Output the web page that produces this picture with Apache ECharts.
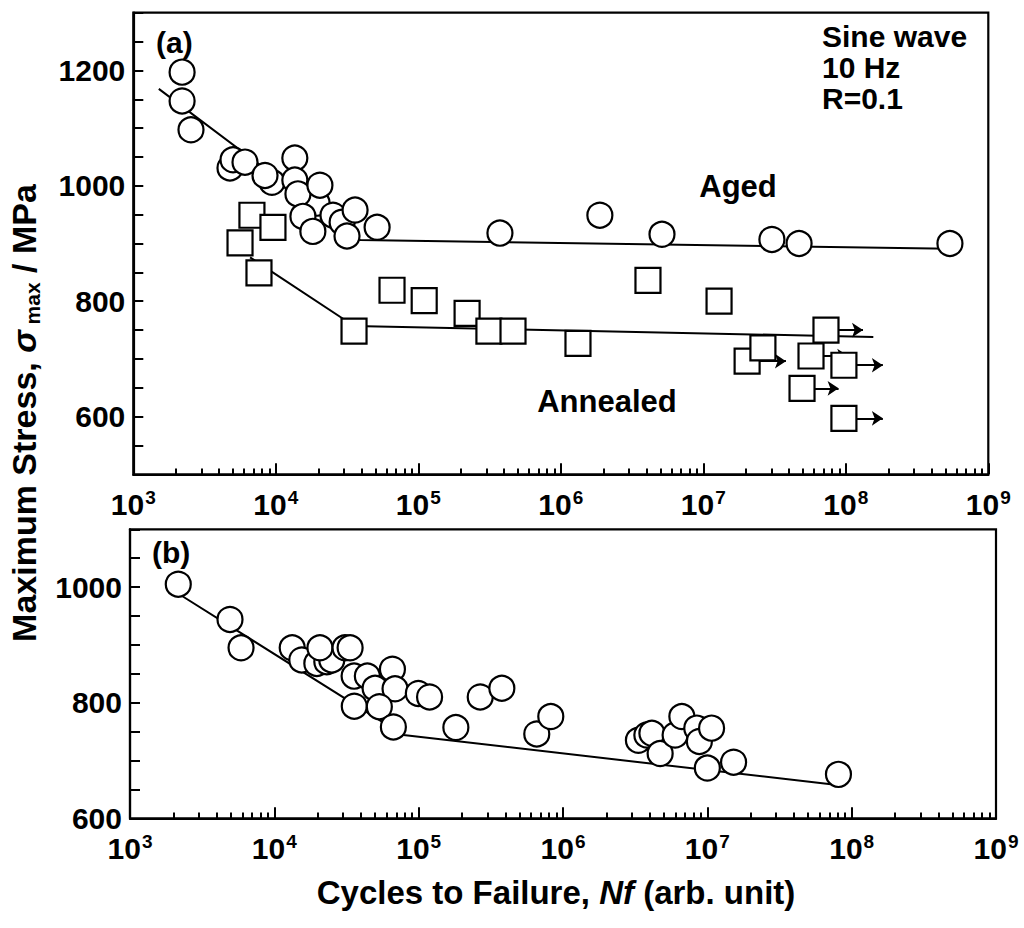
<!DOCTYPE html>
<html><head><meta charset="utf-8">
<script src="https://cdn.jsdelivr.net/npm/echarts@6/dist/echarts.min.js"></script>
<style>html,body{margin:0;padding:0;background:#fff}#c{width:1024px;height:928px}</style>
</head><body><div id="c"></div>
<script>
// ---------- DATA ----------
// Panel (a): Aged (circles)
const agedPoints = [
  [2200,1197],[2200,1147],[2540,1097],[4770,1031],[5010,1045],[6080,1041],
  [9400,1006],[8400,1018],[19500,970],[13600,1048],[13600,1010],[14300,986],
  [20400,1001],[15500,947],[18200,921],[25200,949],[29200,937],[31600,913],
  [36000,958],[51400,928],[374000,918],[1880000,949],[5130000,916],
  [30300000,907],[47000000,900],[538000000,900]
];
const agedFit = [[1510,1168],[39000,906],[538000000,891]];
// Panel (a): Annealed (squares)
const annealedPoints = [
  [6800,949],[9550,928],[5610,901],[7620,849],[35400,748],[65400,819],
  [110000,801],[220000,779],[313000,748],[462000,748],[1320000,727],
  [4090000,836],[12900000,800],[20300000,696],[26200000,719],[72600000,750],
  [57000000,705],[97000000,689],[49300000,649],[97000000,597]
];
// run-outs: [cycles, stress, arrow tip cycles]
const annealedRunouts = [
  [20300000,696,38000000],[72600000,750,132000000],[57000000,705,104000000],
  [97000000,689,182000000],[49300000,649,89000000],[97000000,597,182000000]
];
const annealedFit = [[6600,876],[35400,757],[156000000,738]];
// Panel (b)
const panelBPoints = [
  [2160,1005],[4930,944],[5880,895],[13300,895],[15500,874],[19700,868],
  [23100,871],[25000,874],[20700,895],[30900,895],[33500,895],[35700,846],
  [44100,846],[49900,825],[65800,858],[68600,824],[35800,794],[53400,793],
  [66800,758],[99500,816],[119000,810],[181000,757],[267000,810],[377000,825],
  [658000,746],[823000,776],[3330000,735],[3810000,744],[4130000,747],
  [4710000,712],[5980000,744],[6660000,776],[8450000,756],[8810000,733],
  [10700000,756],[10000000,687],[15200000,697],[81000000,676]
];
const panelBFit = [[2280,985],[78400,744],[76900000,658]];
// axis ticks
const decades = [1e3,1e4,1e5,1e6,1e7,1e8,1e9];
const minorMultipliers = [2,3,4,5,6,7,8,9];
const yLabelStep = 200;

// ---------- CHART ----------
const FONT = "'Liberation Sans', Arial, Helvetica, sans-serif";
const minorTicks = [];
decades.slice(0, -1).forEach(d => minorMultipliers.forEach(m => minorTicks.push(d*m)));

const chart = echarts.init(document.getElementById('c'), null, {renderer:'svg'});

function xAxisCfg(gi){
  return {
    type:'log', logBase:10, min:1e3, max:1e9, gridIndex:gi,
    axisLine:{show:true, lineStyle:{color:'#000', width:2.2}},
    axisTick:{show:false},
    splitLine:{show:false},
    axisLabel:{
      margin:14, color:'#000',
      formatter: v => '{b|10}{s|' + Math.round(Math.log10(v)) + '}',
      rich:{
        b:{fontSize:30, fontWeight:'bold', fontFamily:FONT, color:'#000', lineHeight:32},
        s:{fontSize:19, fontWeight:'bold', fontFamily:FONT, color:'#000', verticalAlign:'top', lineHeight:19, padding:[0,0,4,1]}
      }
    }
  };
}
function yAxisCfg(gi, min, max){
  return {
    type:'value', min:min, max:max, interval:50, gridIndex:gi,
    axisLine:{show:true, lineStyle:{color:'#000', width:2.2}},
    axisTick:{show:true, inside:true, length:10, interval:0, lineStyle:{color:'#000', width:2}},
    splitLine:{show:false},
    axisLabel:{
      interval:0, margin:8, color:'#000', fontSize:30, fontWeight:'bold', fontFamily:FONT,
      formatter: v => (v % yLabelStep === 0 ? String(v) : '')
    }
  };
}
// x-axis ticks (decades long, 2..9 short) drawn as short vertical segments in data space
function xTickSeries(gi, yMin){
  const data = [];
  decades.forEach(v => data.push({coords:[[v, yMin],[v, yMin + 19]]}));
  minorTicks.forEach(v => data.push({coords:[[v, yMin],[v, yMin + 10]]}));
  return {
    type:'lines', coordinateSystem:'cartesian2d', xAxisIndex:gi, yAxisIndex:gi, z:6, silent:true,
    symbol:'none', lineStyle:{color:'#000', width:2, opacity:1}, data:data
  };
}
const markStyle = {color:'#fff', borderColor:'#000', borderWidth:2.2, opacity:1};
const fitLine = (data, idx) => ({
  type:'line', xAxisIndex:idx, yAxisIndex:idx, data:data, symbol:'none', silent:true, z:2,
  lineStyle:{color:'#000', width:2, opacity:1}
});

function txt(x, y, text, opts){
  return {
    type:'text', x:x, y:y, silent:true,
    style:Object.assign({text:text, fill:'#000', fontFamily:FONT, fontWeight:'bold', fontSize:31,
      align:'left', verticalAlign:'middle'}, opts || {})
  };
}

const option = {
  backgroundColor:'#fff',
  animation:false,
  grid:[
    {left:133.3, top:12.7, width:855, height:461.6, show:true, borderColor:'#000', borderWidth:2.2, backgroundColor:'transparent'},
    {left:130, top:529.3, width:866, height:289, show:true, borderColor:'#000', borderWidth:2.2, backgroundColor:'transparent'}
  ],
  xAxis:[xAxisCfg(0), xAxisCfg(1)],
  yAxis:[yAxisCfg(0,500,1300), yAxisCfg(1,600,1100)],
  series:[
    fitLine(agedFit,0),
    fitLine(annealedFit,0),
    {
      type:'lines', coordinateSystem:'cartesian2d', xAxisIndex:0, yAxisIndex:0, z:3, silent:true,
      symbol:['none','arrow'], symbolSize:11,
      lineStyle:{color:'#000', width:2, opacity:1},
      data: annealedRunouts.map(r => ({coords:[[r[0], r[1]],[r[2], r[1]]]}))
    },
    {type:'scatter', xAxisIndex:0, yAxisIndex:0, data:agedPoints, symbol:'circle', symbolSize:25, itemStyle:markStyle, z:4},
    {type:'scatter', xAxisIndex:0, yAxisIndex:0, data:annealedPoints, symbol:'rect', symbolSize:25, itemStyle:markStyle, z:4},
    fitLine(panelBFit,1),
    {type:'scatter', xAxisIndex:1, yAxisIndex:1, data:panelBPoints, symbol:'circle', symbolSize:25, itemStyle:markStyle, z:4},
    xTickSeries(0,500),
    xTickSeries(1,600)
  ],
  graphic:[
    txt(156, 42, '(a)', {fontSize:30}),
    txt(152, 552, '(b)', {fontSize:30}),
    txt(822, 21, 'Sine wave\n10 Hz\nR=0.1', {verticalAlign:'top', lineHeight:31, fontSize:30}),
    txt(738, 186, 'Aged', {align:'center'}),
    txt(607, 401, 'Annealed', {align:'center'}),
    {
      type:'text', x:556, y:892, silent:true,
      style:{
        text:'{t|Cycles to Failure, }{i|Nf}{t| (arb. unit)}',
        align:'center', verticalAlign:'middle',
        rich:{
          t:{fontSize:33, fontWeight:'bold', fontFamily:FONT, color:'#000'},
          i:{fontSize:33, fontWeight:'bold', fontStyle:'italic', fontFamily:FONT, color:'#000'}
        }
      }
    },
    {
      type:'text', x:24, y:413, rotation:Math.PI/2, silent:true,
      style:{
        text:'{t|Maximum Stress, }{g|σ}{s| max}{t| / MPa}',
        align:'center', verticalAlign:'middle',
        rich:{
          t:{fontSize:34, fontWeight:'bold', fontFamily:FONT, color:'#000', lineHeight:38},
          g:{fontSize:34, fontWeight:'bold', fontStyle:'italic', fontFamily:FONT, color:'#000', lineHeight:38},
          s:{fontSize:21, fontWeight:'bold', fontFamily:FONT, color:'#000', verticalAlign:'bottom', lineHeight:21}
        }
      }
    }
  ]
};
chart.setOption(option);
</script>
</body></html>
